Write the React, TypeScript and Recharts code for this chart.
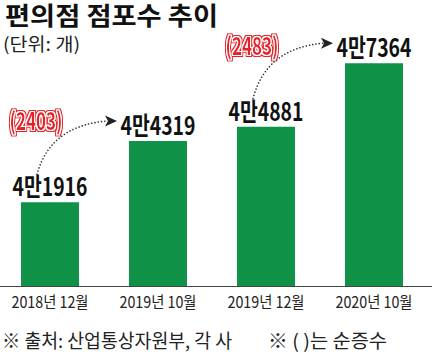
import { Bar, BarChart, LabelList, XAxis, YAxis } from "recharts";

const categories = ["2018년 12월", "2019년 10월", "2019년 12월", "2020년 10월"];
const stores = [41916, 44319, 44881, 47364];
const valueLabels = ["4만1916", "4만4319", "4만4881", "4만7364"];
const netIncrease: (number | null)[] = [null, 2403, null, 2483];

const data = categories.map((name, i) => ({ name, stores: stores[i] }));

const W = 433;
const H = 357;
const MARGIN = { top: 47, right: 5, bottom: 40, left: -4 };
const Y_DOMAIN: [number, number] = [38600, 48000];
const STEP = (W - MARGIN.left - MARGIN.right) / categories.length;
const FONT = "'Noto Sans CJK KR', 'Noto Sans', sans-serif";
const GREEN = "#0f9247";
const RED = "#e5232b";

// custom tick so the condensed look of the original can be copied
function Tick(props: any) {
  const { x, y, payload } = props;
  return (
    <text
      x={x}
      y={y + 20.5}
      textAnchor="middle"
      fontFamily={FONT}
      fontSize={16}
      fill="#222"
      textLength={77}
      lengthAdjust="spacingAndGlyphs"
    >
      {payload.value}
    </text>
  );
}

function ValueLabel(props: any) {
  const { x, y, width, height, index } = props;
  const cx = x + width / 2;
  const inc = netIncrease[index];
  let arrow = null;
  if (inc != null && index > 0) {
    // previous bar top, worked out from this bar's own scale
    const base = y + height;
    const ppu = height / (stores[index] - Y_DOMAIN[0]);
    const prevTop = base - ppu * (stores[index - 1] - Y_DOMAIN[0]);
    const sx = cx - STEP - 13;
    const sy = prevTop - 28;
    const tx = cx - 41;
    const ty = y - 20;
    arrow = (
      <g>
        <path
          d={`M${sx},${sy} Q${sx + 13},${ty + 5} ${tx - 10},${ty}`}
          fill="none"
          stroke="#333"
          strokeWidth={1.6}
          strokeDasharray="0.1 3.2"
          strokeLinecap="round"
        />
        <polygon
          points={`${tx},${ty} ${tx - 12},${ty - 5.5} ${tx - 9},${ty} ${tx - 12},${ty + 5.5}`}
          fill="#222"
        />
        <text
          x={sx - 1}
          y={sy - 44}
          textAnchor="middle"
          fontFamily={FONT}
          fontWeight="bold"
          fontSize={24}
          fill={RED}
          filter="url(#ring)"
          textLength={53}
          lengthAdjust="spacingAndGlyphs"
        >
          ({inc})
        </text>
      </g>
    );
  }
  return (
    <g>
      <text
        x={cx}
        y={y - 6}
        textAnchor="middle"
        fontFamily={FONT}
        fontWeight="bold"
        fontSize={25}
        fill="#111"
        textLength={75}
        lengthAdjust="spacingAndGlyphs"
      >
        {valueLabels[index]}
      </text>
      {arrow}
    </g>
  );
}

export default function App() {
  return (
    <div style={{ position: "absolute", left: 0, top: 0, width: W, height: H, background: "#fff" }}>
      <svg width={0} height={0} style={{ position: "absolute" }}>
        <defs>
          {/* red outline, white ring, red fill */}
          <filter id="ring" x="-20%" y="-40%" width="140%" height="180%">
            <feMorphology in="SourceAlpha" operator="dilate" radius="1.8" result="outer" />
            <feFlood floodColor={RED} result="r" />
            <feComposite in="r" in2="outer" operator="in" result="redOuter" />
            <feMorphology in="SourceAlpha" operator="dilate" radius="0.8" result="inner" />
            <feFlood floodColor="#fff" result="w" />
            <feComposite in="w" in2="inner" operator="in" result="whiteInner" />
            <feMerge>
              <feMergeNode in="redOuter" />
              <feMergeNode in="whiteInner" />
              <feMergeNode in="SourceGraphic" />
            </feMerge>
          </filter>
        </defs>
      </svg>
      <BarChart width={W} height={H} data={data} margin={MARGIN}>
        <XAxis
          dataKey="name"
          height={30}
          tickSize={0}
          tickMargin={0}
          axisLine={false}
          tickLine={false}
          tick={<Tick />}
          interval={0}
        />
        <YAxis hide domain={Y_DOMAIN} allowDataOverflow />
        <Bar dataKey="stores" fill={GREEN} barSize={58} isAnimationActive={false}>
          <LabelList dataKey="stores" content={<ValueLabel />} />
        </Bar>
      </BarChart>
      <div
        style={{
          position: "absolute",
          left: 0,
          top: 286,
          width: 432,
          borderTop: "1.5px solid #444",
        }}
      />
      <svg
        width={W}
        height={H}
        style={{ position: "absolute", left: 0, top: 0, pointerEvents: "none" }}
      >
        <text x={5} y={25} fontFamily={FONT} fontWeight="bold" fontSize={25} fill="#111" textLength={213} lengthAdjust="spacingAndGlyphs">
          편의점 점포수 추이
        </text>
        <text x={3} y={51} fontFamily={FONT} fontSize={18} fill="#222" textLength={77} lengthAdjust="spacingAndGlyphs">
          (단위: 개)
        </text>
        <text x={2} y={348} fontFamily={FONT} fontSize={19} fill="#222" textLength={230} lengthAdjust="spacingAndGlyphs">
          ※ 출처: 산업통상자원부, 각 사
        </text>
        <text x={268} y={348} fontFamily={FONT} fontSize={19} fill="#222" textLength={119} lengthAdjust="spacingAndGlyphs">
          ※ ( )는 순증수
        </text>
      </svg>
    </div>
  );
}
